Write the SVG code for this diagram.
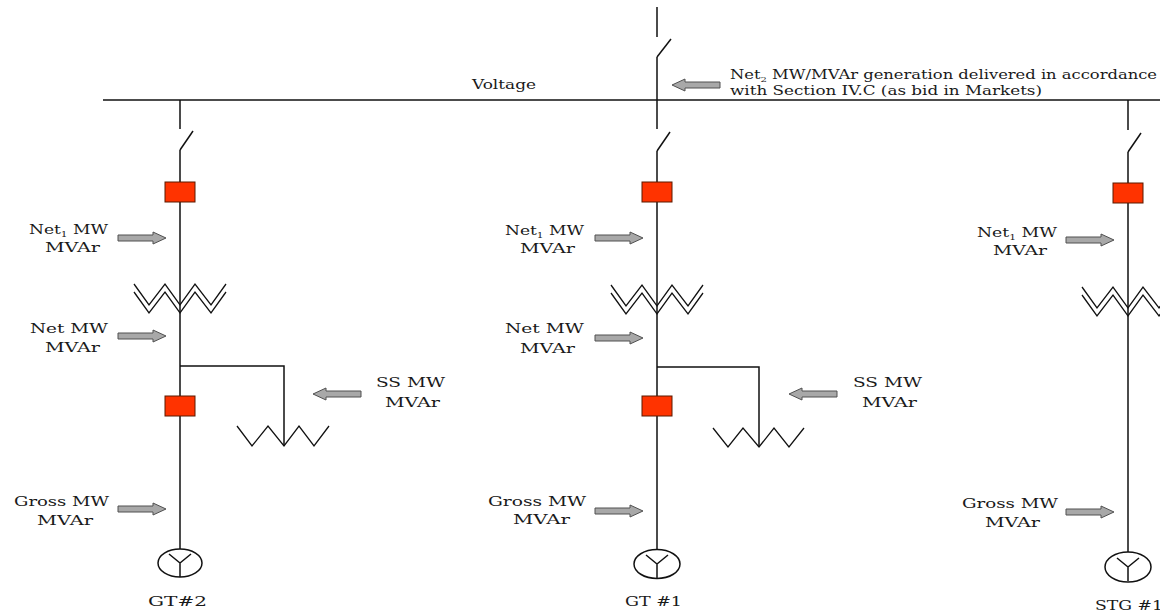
<svg xmlns="http://www.w3.org/2000/svg" xmlns:xlink="http://www.w3.org/1999/xlink" width="1160" height="614" viewBox="0 0 1160 614">
<style>
.w{fill:none;stroke:#111;stroke-width:1.5}
.z{fill:none;stroke:#111;stroke-width:1.3;stroke-linejoin:miter}
.brk{fill:#ff3300;stroke:#5a1a00;stroke-width:1}
.arr{fill:#a8a8a8;stroke:#505050;stroke-width:1}
text{font-family:'DejaVu Serif','Liberation Serif',serif;font-size:13px;fill:#1a1a1a}
.s{font-size:8px}
</style>
<defs>
<path id="ar" class="arr" d="M0,-3 H35 V-6 L48,0 L35,6 V3 H0 Z"/>
<path id="al" class="arr" d="M0,0 L13,-6 V-3 H48 V3 H13 V6 Z"/>
<g id="xf">
<polyline class="z" points="-46,0 -31,21 -15,0 0,21 15,0 31,21 46,0"/>
<polyline class="z" points="-46,8 -31,29 -15,8 0,29 15,8 31,29 46,8"/>
</g>
<g id="gen">
<path class="w" d="M0,0 L-11,-9 M0,0 L11,-9 M0,0 V14"/>
</g>
</defs>

<g id="connectors">
<line class="w" x1="103" y1="100" x2="1160" y2="100"/>
<path class="w" d="M180,100 V129 M180,150 V549"/>
<path class="w" d="M180,366 H284 V446"/>
<path class="w" d="M657,7 V37 M657,57 V129 M657,151 V550"/>
<path class="w" d="M657,367 H759 V447"/>
<path class="w" d="M1128,100 V130 M1128,152 V552"/>
</g>

<g id="bus-voltage">
<text x="472" y="89" textLength="64" lengthAdjust="spacingAndGlyphs">Voltage</text>
</g>

<g id="switch-main">
<line class="w" x1="657" y1="57" x2="671" y2="39"/>
</g>
<g id="net2-label">
<use xlink:href="#al" x="672" y="85"/>
<text x="730" y="79" textLength="427" lengthAdjust="spacingAndGlyphs">Net<tspan class="s" dy="3">2</tspan><tspan dy="-3"> MW/MVAr generation delivered in accordance</tspan></text>
<text x="730" y="95" textLength="312" lengthAdjust="spacingAndGlyphs">with Section IV.C (as bid in Markets)</text>
</g>

<g id="gt2-switch"><line class="w" x1="180" y1="150" x2="193" y2="131"/></g>
<g id="gt2-breaker1"><rect class="brk" x="165" y="182" width="30" height="20"/></g>
<g id="gt2-net1">
<use xlink:href="#ar" x="118" y="238"/>
<text x="29" y="234" textLength="79" lengthAdjust="spacingAndGlyphs">Net<tspan class="s" dy="3">1</tspan><tspan dy="-3"> MW</tspan></text>
<text x="45" y="252" textLength="55" lengthAdjust="spacingAndGlyphs">MVAr</text>
</g>
<g id="gt2-transformer"><use xlink:href="#xf" x="180" y="284"/></g>
<g id="gt2-net">
<use xlink:href="#ar" x="118" y="336"/>
<text x="30" y="333" textLength="78" lengthAdjust="spacingAndGlyphs">Net MW</text>
<text x="45" y="352" textLength="55" lengthAdjust="spacingAndGlyphs">MVAr</text>
</g>
<g id="gt2-breaker2"><rect class="brk" x="165" y="396" width="30" height="20"/></g>
<g id="gt2-ss">
<polyline class="z" points="237,426 252,446 268,426 284,446 299,426 314,446 329,426"/>
<use xlink:href="#al" x="313" y="394"/>
<text x="376" y="387" textLength="69" lengthAdjust="spacingAndGlyphs">SS MW</text>
<text x="385" y="407" textLength="55" lengthAdjust="spacingAndGlyphs">MVAr</text>
</g>
<g id="gt2-gross">
<use xlink:href="#ar" x="118" y="509"/>
<text x="14" y="506" textLength="95" lengthAdjust="spacingAndGlyphs">Gross MW</text>
<text x="37" y="525" textLength="56" lengthAdjust="spacingAndGlyphs">MVAr</text>
</g>
<g id="gt2-generator">
<ellipse class="w" cx="180" cy="563" rx="22" ry="14"/>
<use xlink:href="#gen" x="180" y="563"/>
<text x="148" y="606" textLength="59" lengthAdjust="spacingAndGlyphs">GT#2</text>
</g>

<g id="gt1-switch"><line class="w" x1="657" y1="151" x2="670" y2="132"/></g>
<g id="gt1-breaker1"><rect class="brk" x="642" y="182" width="30" height="20"/></g>
<g id="gt1-net1">
<use xlink:href="#ar" x="595" y="238"/>
<text x="505" y="235" textLength="79" lengthAdjust="spacingAndGlyphs">Net<tspan class="s" dy="3">1</tspan><tspan dy="-3"> MW</tspan></text>
<text x="520" y="253" textLength="55" lengthAdjust="spacingAndGlyphs">MVAr</text>
</g>
<g id="gt1-transformer"><use xlink:href="#xf" x="657" y="285"/></g>
<g id="gt1-net">
<use xlink:href="#ar" x="595" y="338"/>
<text x="505" y="333" textLength="79" lengthAdjust="spacingAndGlyphs">Net MW</text>
<text x="520" y="353" textLength="55" lengthAdjust="spacingAndGlyphs">MVAr</text>
</g>
<g id="gt1-breaker2"><rect class="brk" x="642" y="396" width="30" height="20"/></g>
<g id="gt1-ss">
<polyline class="z" points="713,428 728,447 743,428 759,447 774,428 789,447 804,428"/>
<use xlink:href="#al" x="789" y="394"/>
<text x="853" y="387" textLength="69" lengthAdjust="spacingAndGlyphs">SS MW</text>
<text x="862" y="407" textLength="55" lengthAdjust="spacingAndGlyphs">MVAr</text>
</g>
<g id="gt1-gross">
<use xlink:href="#ar" x="595" y="511"/>
<text x="488" y="506" textLength="98" lengthAdjust="spacingAndGlyphs">Gross MW</text>
<text x="513" y="524" textLength="57" lengthAdjust="spacingAndGlyphs">MVAr</text>
</g>
<g id="gt1-generator">
<ellipse class="w" cx="657" cy="564" rx="23" ry="14.5"/>
<use xlink:href="#gen" x="657" y="564"/>
<text x="625" y="606" textLength="57" lengthAdjust="spacingAndGlyphs">GT #1</text>
</g>

<g id="stg1-switch"><line class="w" x1="1128" y1="152" x2="1141" y2="133"/></g>
<g id="stg1-breaker"><rect class="brk" x="1113" y="183" width="30" height="20"/></g>
<g id="stg1-net1">
<use xlink:href="#ar" x="1066" y="240"/>
<text x="977" y="237" textLength="80" lengthAdjust="spacingAndGlyphs">Net<tspan class="s" dy="3">1</tspan><tspan dy="-3"> MW</tspan></text>
<text x="993" y="255" textLength="54" lengthAdjust="spacingAndGlyphs">MVAr</text>
</g>
<g id="stg1-transformer"><use xlink:href="#xf" x="1128" y="287"/></g>
<g id="stg1-gross">
<use xlink:href="#ar" x="1066" y="512"/>
<text x="962" y="508" textLength="96" lengthAdjust="spacingAndGlyphs">Gross MW</text>
<text x="985" y="527" textLength="55" lengthAdjust="spacingAndGlyphs">MVAr</text>
</g>
<g id="stg1-generator">
<ellipse class="w" cx="1128" cy="567" rx="23" ry="15"/>
<use xlink:href="#gen" x="1128" y="567"/>
<text x="1095" y="610" textLength="68" lengthAdjust="spacingAndGlyphs">STG #1</text>
</g>
</svg>
